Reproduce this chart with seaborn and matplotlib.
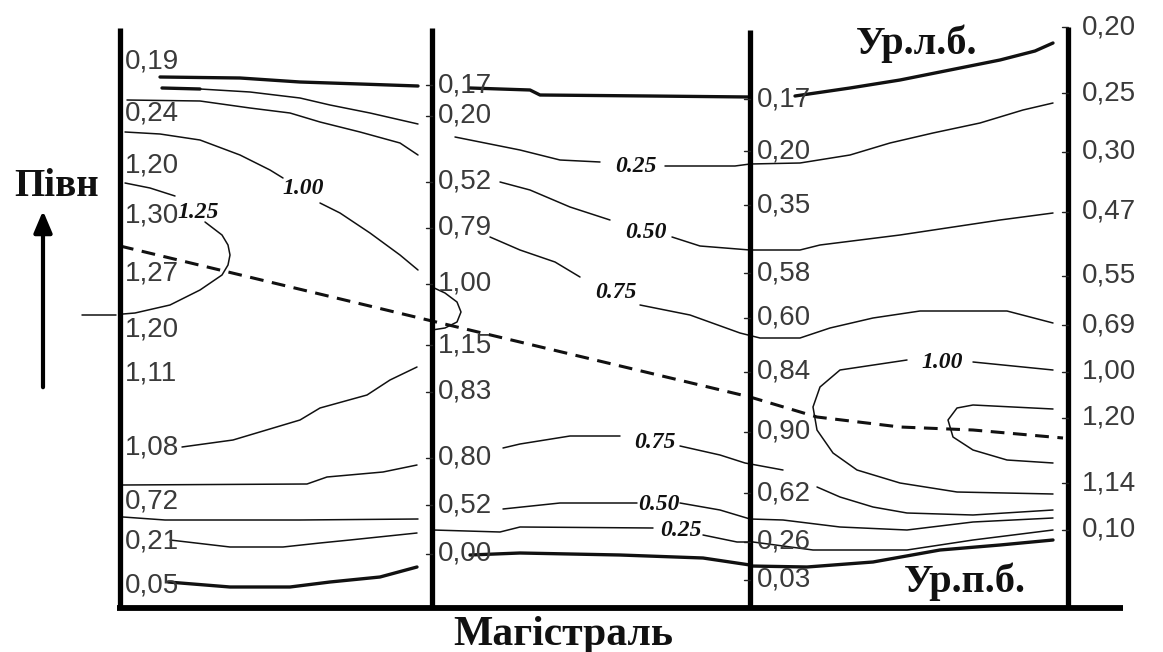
import numpy as np
import pandas as pd
import seaborn as sns
import matplotlib.pyplot as plt

# positions of the 4 cross-sections along the main line (drawing units)
sections_x = [120, 432, 750, 1068]
sections_top = [28, 28, 30, 27]
bottom_y = 608

# measured velocities (m/s) at every section, with their position across the flow
sec1_vals = [0.19, 0.24, 1.20, 1.30, 1.27, 1.20, 1.11, 1.08, 0.72, 0.21, 0.05]
sec1_y = [62, 113, 166, 216, 273, 330, 374, 448, 502, 541, 585]
sec2_vals = [0.17, 0.20, 0.52, 0.79, 1.00, 1.15, 0.83, 0.80, 0.52, 0.00]
sec2_y = [85, 116, 182, 228, 284, 345, 392, 458, 505, 554]
sec3_vals = [0.17, 0.20, 0.35, 0.58, 0.60, 0.84, 0.90, 0.62, 0.26, 0.03]
sec3_y = [99, 151, 205, 273, 318, 372, 432, 493, 542, 580]
sec4_vals = [0.20, 0.25, 0.30, 0.47, 0.55, 0.69, 1.00, 1.20, 1.14, 0.10]
sec4_y = [27, 93, 152, 212, 276, 325, 372, 418, 483, 530]
label_dx = [5, 6, 7, 14]

# water edge lines (thick)
edge_top1_x = [160, 240, 300, 360, 418]
edge_top1_y = [77, 78, 82, 84, 86]
edge_top2_x = [470, 530, 540, 650, 750]
edge_top2_y = [88, 90, 95, 96, 97]
edge_top3_x = [795, 850, 900, 960, 1000, 1035, 1053]
edge_top3_y = [96, 88, 80, 68, 60, 51, 43]
edge_bot1_x = [168, 230, 290, 330, 380, 417]
edge_bot1_y = [582, 587, 587, 582, 577, 567]
edge_bot2_x = [470, 520, 620, 703, 750]
edge_bot2_y = [555, 553, 555, 558, 565]
edge_bot3_x = [750, 807, 873, 940, 1000, 1053]
edge_bot3_y = [566, 567, 562, 550, 545, 540]

# isotachs, section 1 -> 2
p1_b_x = [162, 200, 250, 300, 330, 370, 418]
p1_b_y = [88, 89, 92, 98, 105, 113, 124]
p1_c_x = [127, 200, 250, 290, 320, 360, 400, 418]
p1_c_y = [100, 101, 108, 113, 122, 132, 143, 155]
p1_100a_x = [125, 160, 200, 240, 270, 283]
p1_100a_y = [132, 134, 140, 155, 170, 178]
p1_100b_x = [320, 340, 370, 400, 418]
p1_100b_y = [203, 213, 233, 255, 270]
p1_125a_x = [125, 150, 175]
p1_125a_y = [183, 188, 196]
p1_125b_x = [205, 222, 228, 230, 228, 222, 200, 170, 135, 123]
p1_125b_y = [222, 235, 245, 255, 265, 275, 290, 305, 313, 314]
p1_108_x = [182, 233, 300, 320, 367, 390, 417]
p1_108_y = [447, 440, 420, 408, 395, 380, 367]
p1_f_x = [123, 307, 327, 383, 417]
p1_f_y = [485, 484, 477, 472, 465]
p1_g_x = [123, 165, 300, 418]
p1_g_y = [517, 520, 520, 519]
p1_h_x = [170, 230, 283, 320, 350, 417]
p1_h_y = [540, 547, 547, 543, 540, 533]
north_tick_x = [82, 116]
north_tick_y = [315, 315]

# isotachs, section 2 -> 4
p2_025a_x = [455, 520, 560, 600]
p2_025a_y = [137, 150, 160, 162]
p2_025b_x = [665, 735, 750, 800, 850, 890, 933, 980, 1023, 1053]
p2_025b_y = [166, 166, 164, 163, 155, 143, 133, 123, 110, 103]
p2_050a_x = [500, 530, 570, 610]
p2_050a_y = [182, 190, 207, 220]
p2_050b_x = [672, 700, 750, 800, 820, 900, 1000, 1053]
p2_050b_y = [237, 246, 250, 250, 245, 235, 220, 213]
p2_075a_x = [490, 520, 555, 580]
p2_075a_y = [237, 250, 262, 277]
p2_075b_x = [640, 690, 740, 760, 800, 830, 873, 920, 1007, 1053]
p2_075b_y = [305, 315, 333, 338, 338, 328, 318, 311, 311, 323]
p2_bump_x = [432, 445, 457, 461, 457, 445, 432]
p2_bump_y = [287, 293, 302, 312, 322, 328, 330]
p2_075c_x = [503, 520, 570, 620]
p2_075c_y = [448, 444, 436, 436]
p2_075d_x = [680, 720, 745, 783]
p2_075d_y = [446, 455, 463, 470]
p2_075e_x = [817, 840, 873, 907, 973, 1053]
p2_075e_y = [487, 497, 507, 513, 515, 510]
p2_050c_x = [503, 560, 637]
p2_050c_y = [509, 503, 503]
p2_050d_x = [680, 720, 750, 783, 840, 907, 973, 1053]
p2_050d_y = [503, 510, 519, 520, 527, 530, 522, 518]
p2_025c_x = [433, 500, 520, 653]
p2_025c_y = [530, 532, 527, 528]
p2_025d_x = [703, 737, 753, 813, 907, 973, 1053]
p2_025d_y = [535, 542, 542, 550, 550, 540, 530]
p3_100a_x = [1053, 973]
p3_100a_y = [370, 362]
p3_100b_x = [907, 840, 820, 813, 817, 833, 857, 900, 957, 1053]
p3_100b_y = [360, 370, 387, 407, 430, 453, 470, 483, 492, 494]
p3_125_x = [1053, 973, 957, 948, 953, 973, 1007, 1053]
p3_125_y = [409, 405, 408, 420, 437, 450, 460, 463]

# line of maximum velocities (dynamic axis)
axis_x = [120, 432, 750, 817, 900, 973, 1063]
axis_y = [246, 321, 397, 417, 427, 430, 438]

# isotach labels
iso_text = ["1.00", "1.25", "0.25", "0.50", "0.75", "0.75", "0.50", "0.25", "1.00"]
iso_x = [303, 198, 636, 646, 616, 655, 659, 681, 942]
iso_y = [189, 213, 167, 232, 292, 442, 505, 530, 363]

sns.set_style("white")
plt.rcParams['font.family'] = ['Liberation Sans', 'DejaVu Sans']

fig = plt.figure(figsize=(11.63, 6.52), dpi=100)
ax = fig.add_axes([0, 0, 1, 1])


def draw(xs, ys, lw=1.1, **kw):
    df = pd.DataFrame({'x': xs, 'y': ys})
    sns.lineplot(data=df, x='x', y='y', sort=False, estimator=None,
                 color='#111111', lw=lw, ax=ax, **kw)


thin = [
    (p1_b_x, p1_b_y), (p1_c_x, p1_c_y), (p1_100a_x, p1_100a_y),
    (p1_100b_x, p1_100b_y), (p1_125a_x, p1_125a_y), (p1_125b_x, p1_125b_y),
    (p1_108_x, p1_108_y), (p1_f_x, p1_f_y), (p1_g_x, p1_g_y),
    (p1_h_x, p1_h_y), (north_tick_x, north_tick_y),
    (p2_025a_x, p2_025a_y), (p2_025b_x, p2_025b_y), (p2_050a_x, p2_050a_y),
    (p2_050b_x, p2_050b_y), (p2_075a_x, p2_075a_y), (p2_075b_x, p2_075b_y),
    (p2_bump_x, p2_bump_y), (p2_075c_x, p2_075c_y), (p2_075d_x, p2_075d_y),
    (p2_075e_x, p2_075e_y), (p2_050c_x, p2_050c_y), (p2_050d_x, p2_050d_y),
    (p2_025c_x, p2_025c_y), (p2_025d_x, p2_025d_y),
    (p3_100a_x, p3_100a_y), (p3_100b_x, p3_100b_y), (p3_125_x, p3_125_y),
]
for xs, ys in thin:
    draw(xs, ys)

thick = [
    (edge_top1_x, edge_top1_y), (edge_top2_x, edge_top2_y),
    (edge_top3_x, edge_top3_y), (edge_bot1_x, edge_bot1_y),
    (edge_bot2_x, edge_bot2_y), (edge_bot3_x, edge_bot3_y),
]
for xs, ys in thick:
    draw(xs, ys, lw=2.4)
draw(p1_b_x[:2], p1_b_y[:2], lw=2.4)

draw(axis_x, axis_y, lw=2.2, dashes=False)
ax.lines[-1].set_linestyle((0, (4.5, 2.8)))

# cross-sections and main line
ax.vlines(sections_x, sections_top, bottom_y, colors='black', lw=3.8)
ax.hlines(bottom_y, sections_x[0] - 3, 1123, colors='black', lw=4.2)

all_vals = [sec1_vals, sec2_vals, sec3_vals, sec4_vals]
all_y = [sec1_y, sec2_y, sec3_y, sec4_y]
for i, (vals, ys) in enumerate(zip(all_vals, all_y)):
    sx = sections_x[i]
    for v, y in zip(vals, ys):
        ax.text(sx + label_dx[i], y, f"{v:.2f}".replace('.', ','),
                fontsize=20, color='#3a3a3a', ha='left', va='center')
        if i > 0:
            ax.plot([sx - 6, sx], [y, y], color='#222222', lw=1.0)

for t, x, y in zip(iso_text, iso_x, iso_y):
    ax.text(x, y, t, fontsize=17, family='Liberation Serif', style='italic',
            weight='bold', ha='center', va='center', color='#111111')

serif_bold = dict(family='Liberation Serif', weight='bold', color='#111111')
ax.text(57, 187, "Півн", fontsize=28, ha='center', va='center', **serif_bold)
ax.text(563, 635, "Магістраль", fontsize=30, ha='center', va='center', **serif_bold)
ax.text(917, 44, "Ур.л.б.", fontsize=29, ha='center', va='center', **serif_bold)
ax.text(965, 582, "Ур.п.б.", fontsize=29, ha='center', va='center', **serif_bold)

ax.annotate("", xy=(43, 208), xytext=(43, 390),
            arrowprops=dict(arrowstyle='-|>,head_width=0.55,head_length=1.3',
                            color='black', lw=3))

ax.set_xlim(0, 1163)
ax.set_ylim(652, 0)
ax.set_axis_off()
ax.set_xlabel('')
ax.set_ylabel('')
fig.savefig("out.png", dpi=100, facecolor='white')
